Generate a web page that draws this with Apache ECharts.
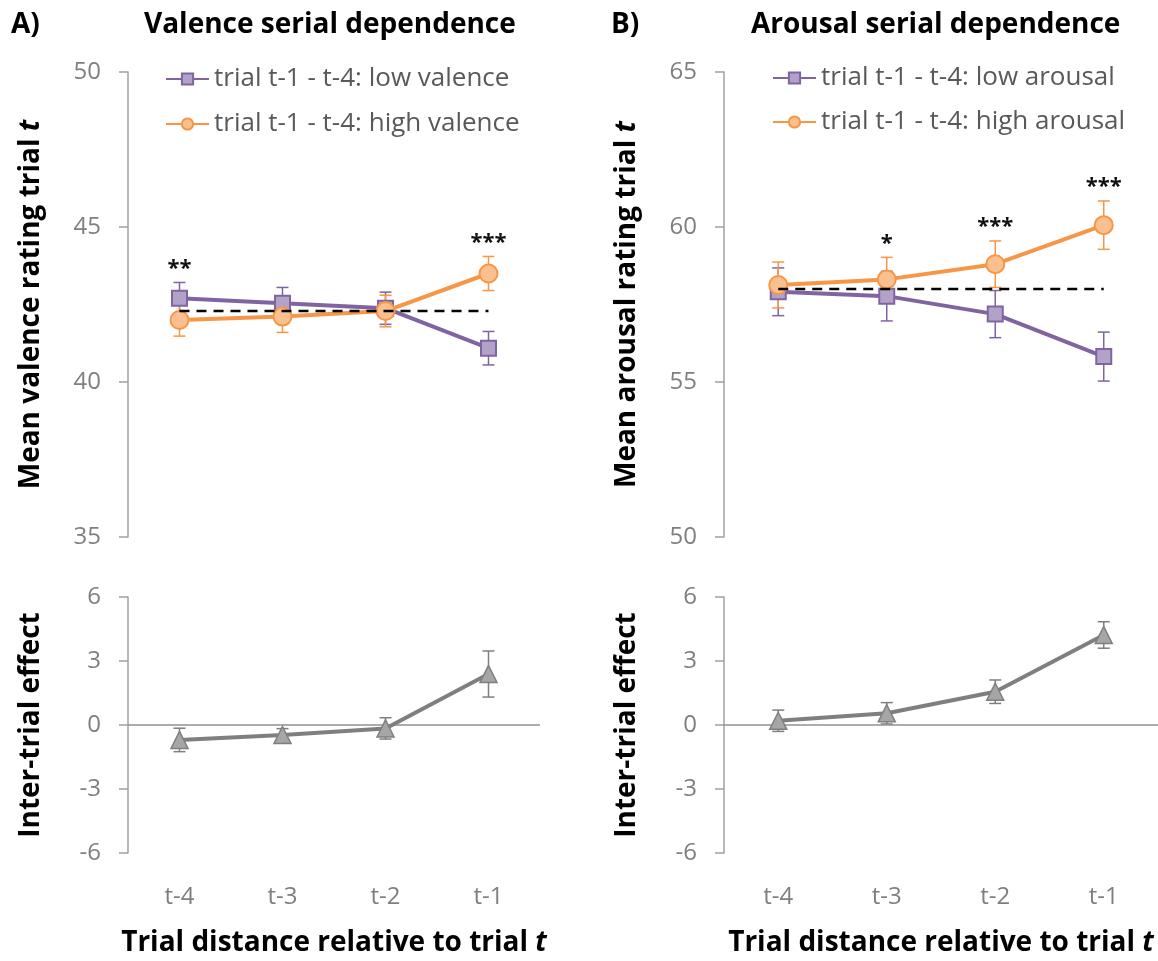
<!DOCTYPE html>
<html><head><meta charset="utf-8">
<script src="https://cdn.jsdelivr.net/npm/echarts@6/dist/echarts.min.js"></script>
<style>html,body{margin:0;padding:0;background:#fff}#c{width:1158px;height:961px}</style>
</head><body><div id="c"></div>
<script>
const categories = ['t-4', 't-3', 't-2', 't-1'];

const valLowName = 'trial t-1 - t-4: low valence';
const valHighName = 'trial t-1 - t-4: high valence';
const valLow = [42.70, 42.54, 42.38, 41.09];
const valLowSE = [0.51, 0.51, 0.52, 0.54];
const valHigh = [42.00, 42.11, 42.29, 43.50];
const valHighSE = [0.52, 0.51, 0.51, 0.55];
const valBaseline = [42.29, 42.29, 42.29, 42.29];
const valSig = ['**', '', '', '***'];
const valEffect = [-0.70, -0.47, -0.16, 2.39];
const valEffectSE = [0.55, 0.30, 0.50, 1.08];

const aroLowName = 'trial t-1 - t-4: low arousal';
const aroHighName = 'trial t-1 - t-4: high arousal';
const aroLow = [57.91, 57.77, 57.19, 55.82];
const aroLowSE = [0.77, 0.80, 0.76, 0.79];
const aroHigh = [58.13, 58.31, 58.80, 60.06];
const aroHighSE = [0.74, 0.71, 0.75, 0.78];
const aroBaseline = [58.0, 58.0, 58.0, 58.0];
const aroSig = ['', '*', '***', '***'];
const aroEffect = [0.20, 0.55, 1.56, 4.22];
const aroEffectSE = [0.50, 0.50, 0.55, 0.62];

const valTicks = [35, 40, 45, 50];
const aroTicks = [50, 55, 60, 65];
const effTicks = [-6, -3, 0, 3, 6];

const FONT = '"Open Sans", sans-serif';
const PURPLE = '#8064a2', PURPLE_FILL = '#b3a2c7';
const ORANGE = '#f79646', ORANGE_FILL = '#fac090';
const GRAY = '#7f7f7f', GRAY_FILL = '#a6a6a6';
const AXIS_GRAY = '#a0a0a0', TICK_TEXT = '#7f7f7f';

function errorSeries(idx, means, ses, color, z) {
  return {
    type: 'custom', xAxisIndex: idx, yAxisIndex: idx, z: z, silent: true,
    data: means.map((m, i) => [i, m - ses[i], m + ses[i]]),
    encode: { x: 0, y: [1, 2] },
    renderItem: function (params, api) {
      const lo = api.coord([api.value(0), api.value(1)]);
      const hi = api.coord([api.value(0), api.value(2)]);
      const w = 6;
      const st = { stroke: color, lineWidth: 1.5 };
      return { type: 'group', children: [
        { type: 'line', shape: { x1: lo[0], y1: lo[1], x2: hi[0], y2: hi[1] }, style: st },
        { type: 'line', shape: { x1: lo[0] - w, y1: lo[1], x2: lo[0] + w, y2: lo[1] }, style: st },
        { type: 'line', shape: { x1: hi[0] - w, y1: hi[1], x2: hi[0] + w, y2: hi[1] }, style: st }
      ] };
    }
  };
}

function sigSeries(idx, sig, a, aSE, b, bSE) {
  return {
    type: 'custom', xAxisIndex: idx, yAxisIndex: idx, z: 20, silent: true,
    data: sig.map((s, i) => [i, Math.max(a[i] + aSE[i], b[i] + bSE[i])]),
    renderItem: function (params, api) {
      const s = sig[params.dataIndex];
      if (!s) return null;
      const p = api.coord([api.value(0), api.value(1)]);
      return { type: 'text', style: { text: s, x: p[0], y: p[1] - 3, textAlign: 'center', textVerticalAlign: 'bottom', font: 'bold 22px ' + FONT, fill: '#111' } };
    }
  };
}

function lineSeries(idx, name, data, color, fill, symbol, size, z) {
  return {
    type: 'line', name: name, xAxisIndex: idx, yAxisIndex: idx, data: data, z: z,
    symbol: symbol, symbolSize: size, showAllSymbol: true,
    lineStyle: { color: color, width: 4 },
    itemStyle: { color: fill, borderColor: color, borderWidth: 2 },
    emphasis: { disabled: true }
  };
}

function baseSeries(idx, data) {
  return {
    type: 'line', xAxisIndex: idx, yAxisIndex: idx, data: data, z: 15, symbol: 'none', silent: true,
    lineStyle: { color: '#000', width: 2.5, type: [10, 7] }
  };
}

function effectSeries(idx, data) {
  return {
    type: 'line', xAxisIndex: idx, yAxisIndex: idx, data: data, z: 10,
    symbol: 'triangle', symbolSize: 17, showAllSymbol: true,
    lineStyle: { color: GRAY, width: 4 },
    itemStyle: { color: GRAY_FILL, borderColor: GRAY, borderWidth: 1.5 },
    markLine: { silent: true, symbol: 'none', label: { show: false },
      lineStyle: { color: '#909090', width: 1.5, type: 'solid' },
      data: [{ yAxis: 0 }] }
  };
}

const NAME_SIZE = 28;
const nameRich = {
  n: { fontSize: NAME_SIZE, fontWeight: 'bold', fontFamily: FONT, color: '#000' },
  i: { fontSize: NAME_SIZE, fontWeight: 'bold', fontStyle: 'italic', fontFamily: FONT, color: '#000' }
};

function yAxis(idx, ticks, name, nameGap) {
  return {
    type: 'value', gridIndex: idx, min: ticks[0], max: ticks[ticks.length - 1],
    interval: ticks[1] - ticks[0],
    splitLine: { show: false },
    axisLine: { show: true, lineStyle: { color: AXIS_GRAY, width: 1.5 } },
    axisTick: { show: true, length: 9, lineStyle: { color: AXIS_GRAY, width: 1.5 } },
    axisLabel: { color: TICK_TEXT, fontSize: 24, fontFamily: FONT, margin: 27 },
    name: name, nameLocation: 'middle', nameGap: nameGap,
    nameTextStyle: { color: '#000', fontSize: NAME_SIZE, fontWeight: 'bold', fontFamily: FONT, rich: nameRich }
  };
}

function xAxis(idx, showLabels) {
  return {
    type: 'category', gridIndex: idx, data: categories, boundaryGap: true,
    axisLine: { show: false, onZero: false }, axisTick: { show: false }, splitLine: { show: false },
    axisLabel: { show: showLabels, color: TICK_TEXT, fontSize: 24, fontFamily: FONT, margin: 32 },
    name: showLabels ? '{n|Trial distance relative to trial }{i|t}' : '',
    nameLocation: 'middle', nameGap: 76,
    nameTextStyle: { rich: nameRich }
  };
}

const legendText = { color: '#595959', fontSize: 26, fontFamily: FONT };

const option = {
  animation: false,
  backgroundColor: '#fff',
  grid: [
    { left: 128, top: 72, width: 412, height: 465 },
    { left: 128, top: 597, width: 412, height: 256 },
    { left: 724, top: 72, width: 434, height: 465 },
    { left: 724, top: 597, width: 434, height: 256 }
  ],
  xAxis: [xAxis(0, false), xAxis(1, true), xAxis(2, false), xAxis(3, true)],
  yAxis: [
    yAxis(0, valTicks, '{n|Mean valence rating trial }{i|t}', 83),
    yAxis(1, effTicks, 'Inter-trial effect', 83),
    yAxis(2, aroTicks, '{n|Mean arousal rating trial }{i|t}', 83),
    yAxis(3, effTicks, 'Inter-trial effect', 83)
  ],
  legend: [
    { data: [valLowName, valHighName], orient: 'vertical', left: 160, top: 61, itemGap: 19, itemWidth: 43, itemHeight: 14, textStyle: legendText, selectedMode: false },
    { data: [aroLowName, aroHighName], orient: 'vertical', left: 767, top: 60, itemGap: 18, itemWidth: 43, itemHeight: 14, textStyle: legendText, selectedMode: false }
  ],
  graphic: [
    { type: 'text', left: 11, top: 11, style: { text: 'A)', font: 'bold 28px ' + FONT, fill: '#000' } },
    { type: 'text', left: 144, top: 11, style: { text: 'Valence serial dependence', font: 'bold 28px ' + FONT, fill: '#000' } },
    { type: 'text', left: 611, top: 11, style: { text: 'B)', font: 'bold 28px ' + FONT, fill: '#000' } },
    { type: 'text', left: 751, top: 11, style: { text: 'Arousal serial dependence', font: 'bold 28px ' + FONT, fill: '#000' } }
  ],
  series: [
    errorSeries(0, valLow, valLowSE, PURPLE, 4),
    errorSeries(0, valHigh, valHighSE, ORANGE, 5),
    lineSeries(0, valLowName, valLow, PURPLE, PURPLE_FILL, 'rect', 15, 10),
    lineSeries(0, valHighName, valHigh, ORANGE, ORANGE_FILL, 'circle', 18, 11),
    baseSeries(0, valBaseline),
    sigSeries(0, valSig, valLow, valLowSE, valHigh, valHighSE),
    errorSeries(1, valEffect, valEffectSE, GRAY, 4),
    effectSeries(1, valEffect),

    errorSeries(2, aroLow, aroLowSE, PURPLE, 4),
    errorSeries(2, aroHigh, aroHighSE, ORANGE, 5),
    lineSeries(2, aroLowName, aroLow, PURPLE, PURPLE_FILL, 'rect', 15, 10),
    lineSeries(2, aroHighName, aroHigh, ORANGE, ORANGE_FILL, 'circle', 18, 11),
    baseSeries(2, aroBaseline),
    sigSeries(2, aroSig, aroLow, aroLowSE, aroHigh, aroHighSE),
    errorSeries(3, aroEffect, aroEffectSE, GRAY, 4),
    effectSeries(3, aroEffect)
  ]
};

const chart = echarts.init(document.getElementById('c'), null, { renderer: 'canvas' });
chart.setOption(option);
</script></body></html>
